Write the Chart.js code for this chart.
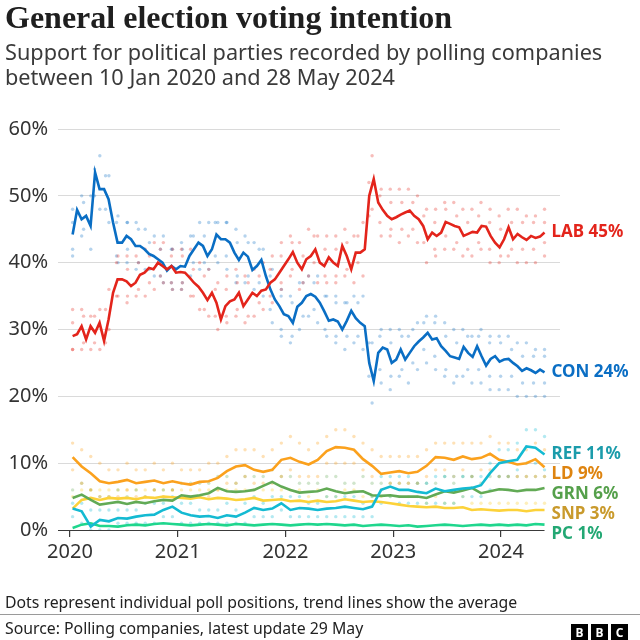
<!DOCTYPE html>
<html>
<head>
<meta charset="utf-8">
<script src="https://cdn.jsdelivr.net/npm/chart.js@4.4.1/dist/chart.umd.min.js"></script>
<style>
  body { margin: 0; background: #fff; }
  #wrap { position: relative; width: 640px; height: 640px; overflow: hidden; font-family: "Noto Sans", sans-serif; }
  #wrap canvas { position: absolute; left: 0; top: 0; }
  .txt { position: absolute; left: 5px; white-space: nowrap; }
  #title { top: -1px; font: bold 32px/36px "Liberation Serif", serif; color: #1f1f1f; }
  #subtitle { top: 39px; font-size: 21.7px; line-height: 25px; color: #3a3a3a; }
  #note { top: 592px; font-size: 15.8px; line-height: 20px; color: #222; }
  #rule { position: absolute; left: 0; top: 614px; width: 640px; height: 1px; background: #9a9a9a; }
  #source { top: 618px; font-size: 15.8px; line-height: 20px; color: #222; }
  #bbc { position: absolute; left: 571px; top: 620px; }
  #bbc span { display: inline-block; width: 17px; height: 17px; margin-right: 3px; background: #000; color: #fff;
              font: bold 12px/17px "Noto Sans", sans-serif; text-align: center; }
</style>
</head>
<body>
<div id="wrap">
  <canvas id="polls" width="640" height="640"></canvas>
  <div class="txt" id="title">General election voting intention</div>
  <div class="txt" id="subtitle">Support for political parties recorded by polling companies<br>between 10 Jan 2020 and 28 May 2024</div>
  <div class="txt" id="note">Dots represent individual poll positions, trend lines show the average</div>
  <div id="rule"></div>
  <div class="txt" id="source">Source: Polling companies, latest update 29 May</div>
  <div id="bbc"><span>B</span><span>B</span><span>C</span></div>
</div>
<script>
const firstPoll = 2020 + 9 / 366;   // 10 Jan 2020
const lastPoll = 2024 + 148 / 366;  // 28 May 2024
const yearTicks = [2020, 2021, 2022, 2023, 2024];

// trend lines, twice a month
const labTrend = [29,29.3,30.5,28.5,30.5,29.5,31,28.3,31.5,35.5, 37.5,37.5,37.2,36.5,37,38.2,38.5,39.2,39,40,
  39.5,39,39.5,38.5,38.6,38.5,37.8,37,36.4,35.5, 34.4,35.5,34,31.5,33.5,34.2,34.5,35.5,33.5,34.5,
  35.5,35,35.8,36,37,37.5,38.5,39.5,40.5,41.6, 40,39,40.5,41,42,40,39.5,40.8,40,39.5,
  42.5,41,39,41.5,41.5,42,50,52.5,49,47.9, 47,46.5,46.8,47.2,47.5,47.8,47,46.5,45.5,43.5,
  44.5,44,44.5,46.1,45.8,45.5,45.3,44,44.3,44.6, 44.5,45.5,45.4,44,43,42.3,43.5,45.3,43.5,44.3,
  43.8,43.4,44,43.7,43.9,44.5];
const conTrend = [44.2,47.9,46.5,47,45.5,53.5,51,51,49.5,46, 43,43,44,43.5,42.5,42.5,42,41.3,41,40.5,
  40,38.8,39.5,39,39.5,39.4,41,42,43,42.5, 41,42,44.2,43.5,43.5,43,41.5,40.4,41.5,40.9,
  38.9,39.5,40.4,38,36,34.5,33.5,32.3,32,31, 33.4,34,35,35.3,34.9,34,32.7,31.3,31.5,31.2,
  30,31.3,32.8,31.7,31,30.5,25,22.3,26.5,27.3, 27,25,25.5,27,25.5,26.5,27.5,28.2,28.8,29.5,
  28.5,28.7,27.5,26.8,26,25.8,25.6,27.4,26.5,25.9, 27.5,26,24.6,25.6,26,25.2,25.5,25.6,25,24.5,
  23.8,24.2,23.9,23.5,24,23.6];

// trend lines, monthly
const refTrend = [3.2,2.8,0.5,1.5,1.3,1.8,1.7,2.0,2.2,2.3, 3.0,3.5,2.6,2.2,2.0,2.1,1.8,2.2,2.0,2.6,
  3.3,3.0,3.2,4.0,3.0,3.3,3.2,3.0,3.2,3.3, 3.5,3.3,3.1,3.5,6.0,6.5,6.0,6.0,5.7,5.5,
  6.2,5.8,6.0,6.2,6.3,6.7,8.5,10.0,10.3,10.5, 12.5,12.3,11.3];
const ldTrend = [10.9,9.5,8.5,7.3,7.0,7.2,7.5,7.0,7.2,7.4, 7.0,7.3,7.0,6.8,7.2,7.3,7.8,8.8,9.5,9.7,
  9.0,8.7,9.0,10.5,10.8,10.2,9.8,10.5,11.8,12.4, 12.3,12.0,10.6,9.6,8.4,8.6,8.8,8.5,8.7,9.6,
  10.9,10.8,10.5,11.0,10.6,10.8,11.4,10.5,10.2,9.8, 10.0,10.6,9.4];
const grnTrend = [4.8,5.3,4.5,3.8,4.0,4.2,3.9,4.2,4.0,4.3, 4.5,4.4,5.2,5.0,5.2,5.5,6.3,5.8,5.7,5.8,
  6.0,6.6,7.2,6.5,6.0,5.6,5.7,5.8,6.2,5.8, 5.5,5.7,5.8,5.2,5.1,5.2,5.0,5.0,5.0,4.8,
  5.3,5.8,5.6,5.9,6.3,5.5,5.8,6.1,6.0,5.8, 6.0,6.0,6.3];
const snpTrend = [3.2,4.5,4.8,4.5,4.8,4.7,4.8,4.6,4.9,4.8, 5.0,4.9,4.8,4.7,4.9,4.6,4.8,4.7,4.5,4.6,
  4.8,4.4,4.5,4.6,4.3,4.4,4.2,4.4,4.2,4.3, 4.6,4.4,4.2,4.3,4.2,4.0,3.8,3.6,3.5,3.4,
  3.5,3.3,3.3,3.4,3.0,3.1,3.0,2.9,3.0,3.0, 2.8,3.0,3.0];
const pcTrend = [0.3,0.8,1.0,0.6,0.6,0.5,0.7,0.8,0.7,0.9, 1.0,0.9,0.8,0.7,0.8,0.9,0.8,0.7,0.9,0.8,
  0.7,0.8,0.9,0.8,0.7,0.8,0.9,0.8,0.9,0.8, 0.7,0.8,0.6,0.7,0.8,0.7,0.6,0.7,0.5,0.6,
  0.7,0.8,0.7,0.6,0.7,0.8,0.7,0.8,0.7,0.8, 0.7,0.9,0.8];

// individual polls, highest and lowest each month
const labPollHigh = [33,33,32,33,36,41,41,41,42,43, 43,42,42,42,40,39,37,38,39,38, 39,40,41,43,44,43,45,44,44,44,
  45,44,46,56,51,51,51,51,50,48, 48,49,49,48,48,49,48,47,48,48, 47,47,48];
const labPollLow = [27,27,27,27,30,35,34,35,35,36, 37,36,36,35,33,32,30,31,32,31, 32,33,34,36,38,36,38,37,37,37,
  38,37,38,48,44,44,43,44,43,40, 41,42,42,41,41,42,40,40,41,40, 40,40,41];
const conPollHigh = [48,50,50,56,53,47,46,46,45,44, 44,42,43,44,46,46,46,46,45,44, 43,42,39,36,35,37,38,38,35,35,
  34,35,35,28,30,30,30,29,31,32, 32,31,30,30,29,30,29,29,29,28, 28,27,27];
const conPollLow = [41,44,42,48,46,40,40,39,39,38, 37,36,36,38,39,39,40,39,37,37, 36,35,31,29,28,30,32,31,29,28,
  27,28,27,19,22,21,23,22,24,25, 24,23,22,23,22,22,21,21,21,20, 20,20,20];
const ldPollHigh = [13,12,11,10,9,9,10,9,9,10, 9,10,9,9,9,10,10,11,12,12, 12,11,12,13,14,13,12,13,14,15,
  15,14,13,12,11,11,11,11,11,12, 13,13,13,13,13,13,14,13,13,12, 12,13,12];
const ldPollLow = [9,7,6,5,5,5,6,5,5,6, 5,6,5,5,5,5,6,7,7,8, 7,7,7,8,9,8,8,8,10,10,
  10,10,9,8,6,7,7,7,7,8, 9,9,8,9,8,9,9,8,8,8, 8,8,8];
const refPollHigh = [4,4,3,3,3,3,3,3,4,4, 4,5,4,4,3,3,3,4,3,4, 5,4,5,5,5,5,4,4,5,5,
  5,5,4,5,8,8,8,8,7,7, 8,8,8,8,8,8,10,12,12,13, 15,15,14];
const refPollLow = [2,1,0,0,0,1,1,1,1,1, 2,2,1,1,1,1,1,1,1,1, 2,2,2,3,2,2,2,2,2,2,
  2,2,2,2,4,5,4,4,4,4, 4,4,4,5,5,5,6,8,8,9, 10,10,9];
const grnPollHigh = [6,7,6,5,5,6,5,6,5,6, 6,6,7,7,7,7,8,8,7,8, 8,8,9,8,8,7,7,7,8,8,
  7,7,8,7,7,7,7,7,7,7, 7,8,7,8,8,7,8,8,8,8, 8,8,8];
const snpPollHigh = [5,6,6,6,6,6,6,6,6,6, 6,6,6,6,6,6,6,6,6,6, 6,6,6,6,6,6,5,6,5,5,
  6,6,5,5,5,5,5,5,5,4, 5,4,4,5,4,4,4,4,4,4, 4,4,4];

// more polls for the two big parties, roughly every five weeks
const labPollUpper = [31,32,32,33,40,39,40,41,42,41, 41,39,38,36,36,37,37,38,39,41, 43,41,44,42,42,43,44,52,50,49,
  49,49,47,46,48,47,46,47,46,45, 46,46,46,46];
const labPollLower = [27,28,28,28,35,35,36,37,38,37, 37,35,33,32,32,33,32,34,35,37, 39,37,40,38,38,39,40,47,46,45,
  45,45,43,42,44,43,42,43,42,41, 42,42,42,43];
const conPollUpper = [46,49,54,53,46,46,45,43,42,42, 42,44,44,46,46,43,43,42,38,35, 34,37,37,35,34,34,34,28,29,28,
  29,30,31,31,29,28,29,29,28,28, 27,26,26,26];
const conPollLower = [42,45,50,48,41,42,40,39,38,37, 37,40,40,41,41,38,38,37,33,30, 29,32,33,30,29,29,29,23,24,23,
  24,25,27,26,24,23,24,24,23,23, 23,22,22,22];

// spread a series evenly between the first and last poll dates
function onDates(values) {
  const step = (lastPoll - firstPoll) / (values.length - 1);
  return values.map((v, i) => ({ x: firstPoll + i * step, y: v }));
}

const parties = [
  { name: 'LAB', trend: labTrend, line: '#e3241b', text: '#e3241b' },
  { name: 'CON', trend: conTrend, line: '#0a6ec4', text: '#0a6ec4' },
  { name: 'REF', trend: refTrend, line: '#14bad2', text: '#1b9cab' },
  { name: 'LD',  trend: ldTrend,  line: '#fba11d', text: '#de8410' },
  { name: 'GRN', trend: grnTrend, line: '#62aa55', text: '#55a04b' },
  { name: 'SNP', trend: snpTrend, line: '#fcd23a', text: '#c99a2c' },
  { name: 'PC',  trend: pcTrend,  line: '#1fd68d', text: '#23a874' }
];

const red = 'rgba(227,36,27,0.3)', blue = 'rgba(10,110,196,0.3)';
const pollDots = [
  [labPollHigh, red], [labPollLow, red], [labPollUpper, red], [labPollLower, red],
  [conPollHigh, blue], [conPollLow, blue], [conPollUpper, blue], [conPollLower, blue],
  [ldPollHigh, 'rgba(251,161,29,0.32)'], [ldPollLow, 'rgba(251,161,29,0.32)'],
  [refPollHigh, 'rgba(20,186,210,0.32)'], [refPollLow, 'rgba(20,186,210,0.32)'],
  [grnPollHigh, 'rgba(98,170,85,0.3)'], [snpPollHigh, 'rgba(252,210,58,0.35)']
];

const datasets = parties.map((p, i) => ({
  type: 'line',
  label: p.name,
  data: onDates(p.trend),
  borderColor: p.line,
  borderWidth: 2.6,
  pointRadius: 0,
  tension: 0,
  order: i
}));
pollDots.forEach(([values, color]) => datasets.push({
  type: 'scatter',
  data: onDates(values),
  backgroundColor: color,
  borderWidth: 0,
  pointRadius: 1.7,
  order: 20
}));

const endLabels = {
  id: 'endLabels',
  beforeDatasetsDraw(chart) {
    const { ctx, chartArea, scales: { x, y } } = chart;
    const base = Math.round(y.getPixelForValue(0)) + 0.5;
    ctx.save();
    ctx.strokeStyle = '#3a3a3a';
    ctx.lineWidth = 1.2;
    ctx.beginPath();
    ctx.moveTo(chartArea.left, base);
    ctx.lineTo(x.getPixelForValue(lastPoll), base);
    ctx.stroke();
    ctx.restore();
  },
  afterDatasetsDraw(chart) {
    const { ctx, scales: { x, y } } = chart;
    const lx = x.getPixelForValue(lastPoll) + 7;
    ctx.save();
    ctx.font = 'bold 17px "Noto Sans", sans-serif';
    ctx.textBaseline = 'middle';
    let prev = -Infinity;
    parties.forEach(p => {
      const last = p.trend[p.trend.length - 1];
      const py = Math.max(y.getPixelForValue(last), prev + 20);
      prev = py;
      ctx.fillStyle = p.text;
      ctx.fillText(p.name + ' ' + Math.round(last) + '%', lx, py);
    });
    ctx.restore();
  }
};

Chart.defaults.font.family = '"Noto Sans", sans-serif';

new Chart(document.getElementById('polls'), {
  type: 'line',
  data: { datasets },
  options: {
    responsive: false,
    animation: false,
    layout: { padding: { top: 129, right: 80, bottom: 60, left: 0 } },
    plugins: { legend: { display: false }, tooltip: { enabled: false } },
    scales: {
      x: {
        type: 'linear',
        min: 2019.889,
        max: 2024.548,
        afterBuildTicks: s => { s.ticks = yearTicks.map(v => ({ value: v })); },
        afterFit: s => { s.height = 50; },
        border: { display: false },
        grid: { drawOnChartArea: false, tickLength: 7, color: '#3a3a3a', lineWidth: 1.2 },
        ticks: { color: '#333', font: { size: 20 }, padding: 3, maxRotation: 0, callback: v => String(v) }
      },
      y: {
        min: 0,
        max: 60,
        afterFit: s => { s.width = 58; },
        border: { display: false },
        grid: { drawTicks: false, color: c => c.tick.value === 0 ? 'rgba(0,0,0,0)' : '#dadada' },
        ticks: { stepSize: 10, color: '#333', font: { size: 20 }, padding: 10, callback: v => v + '%' }
      }
    }
  },
  plugins: [endLabels]
});
</script>
</body>
</html>
